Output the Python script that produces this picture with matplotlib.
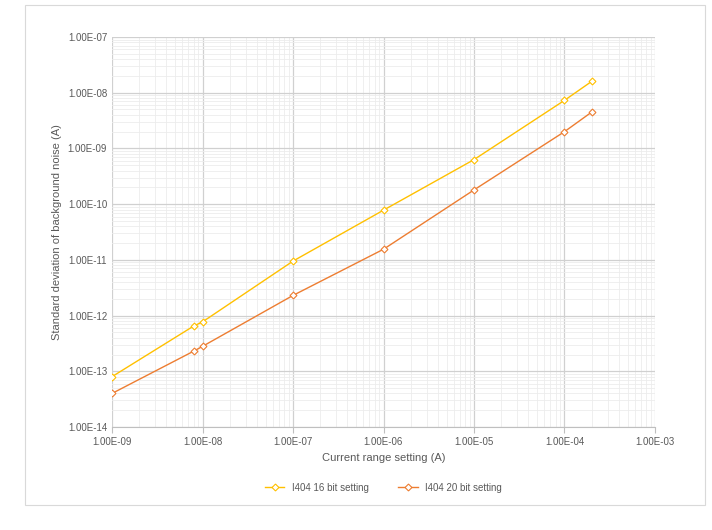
import matplotlib
matplotlib.use("Agg")
import matplotlib.pyplot as plt
from matplotlib.ticker import LogLocator, FuncFormatter, NullFormatter
from matplotlib.patches import Rectangle

plt.rcParams['font.family'] = ['Liberation Sans', 'DejaVu Sans']

range_setting = [1e-9, 8e-9, 1e-8, 1e-7, 1e-6, 1e-5, 1e-4, 2e-4]
noise_16bit = [8e-14, 6.5e-13, 7.7e-13, 9.5e-12, 7.8e-11, 6.3e-10, 7.3e-9, 1.6e-8]
noise_20bit = [4e-14, 2.3e-13, 2.8e-13, 2.3e-12, 1.55e-11, 1.8e-10, 2.0e-9, 4.5e-9]

fig = plt.figure(figsize=(7.12, 5.30), dpi=100)
fig.patches.append(Rectangle((25/712, 1-505/530), 680/712, 500/530, transform=fig.transFigure,
                             fill=False, edgecolor='#d9d9d9', lw=0.8))
ax = fig.add_axes([112/712, 1-427/530, 543/712, 390/530])

ax.plot(range_setting, noise_16bit, color='#ffc000', marker='D', ms=3.5, mfc='white', mew=0.8,
        lw=1, label='I404 16 bit setting')
ax.plot(range_setting, noise_20bit, color='#ed7d31', marker='D', ms=3.5, mfc='white', mew=0.8,
        lw=1, label='I404 20 bit setting')

ax.set_xscale('log')
ax.set_yscale('log')
ax.set_xlim(1e-9, 1e-3)
ax.set_ylim(1e-14, 1e-7)
fmt = FuncFormatter(lambda v, p: f"{v:.2E}")
for axis in (ax.xaxis, ax.yaxis):
    axis.set_major_locator(LogLocator(base=10, numticks=20))
    axis.set_minor_locator(LogLocator(base=10, subs=range(2, 10), numticks=100))
    axis.set_major_formatter(fmt)
    axis.set_minor_formatter(NullFormatter())
ax.grid(True, which='major', color='#d0d0d0', lw=0.9)
ax.grid(True, which='minor', color='#ececec', lw=0.6)
ax.set_axisbelow(True)
for s in ax.spines.values():
    s.set_visible(False)
ax.spines['bottom'].set_visible(True)
ax.spines['bottom'].set_color('#bfbfbf')
ax.tick_params(which='both', length=0, labelsize=7, colors='#595959')
ax.tick_params(axis='x', which='major', length=4, color='#bfbfbf')
ax.set_xlabel('Current range setting (A)', fontsize=8, color='#595959')
ax.set_ylabel('Standard deviation of background noise (A)', fontsize=8, color='#595959')
ax.legend(loc='upper center', bbox_to_anchor=(0.5, -0.12), ncol=2, frameon=False,
          fontsize=7, labelcolor='#595959', columnspacing=3)

fig.savefig('out.png', dpi=100)
